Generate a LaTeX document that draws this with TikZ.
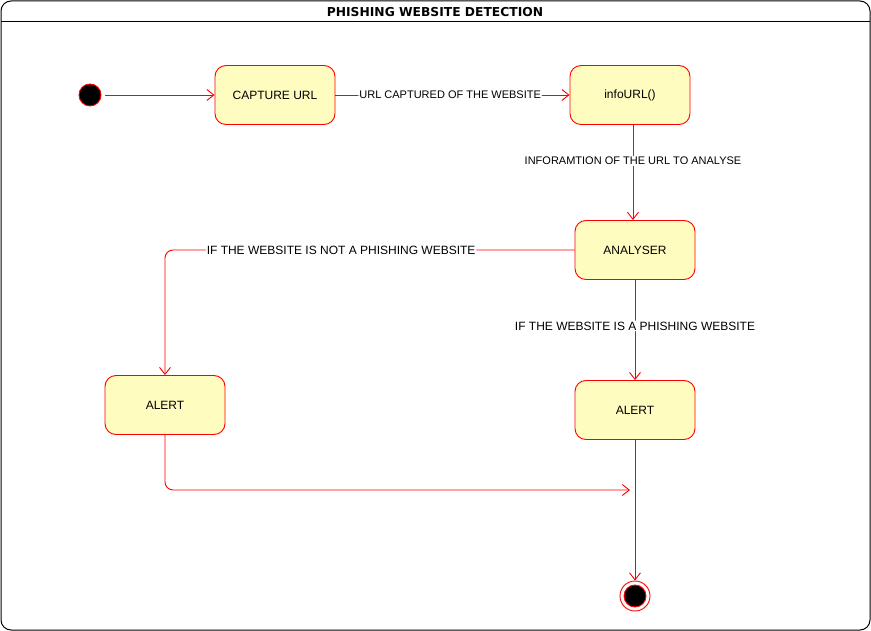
\documentclass[tikz,border=0pt]{standalone}
\usepackage{fontspec}
\setmainfont{Liberation Sans}
\newfontfamily\titlefont{DejaVu Sans}
\usetikzlibrary{arrows.meta,positioning}

\tikzset{
  state/.style={draw=red, line width=0.9pt, fill=yellow!25, rounded corners=11pt, minimum width=120pt, minimum height=59pt, font=\fontsize{12}{14}\selectfont},
  flow/.style={color=red, line width=0.9pt, -{Straight Barb[length=7pt,width=11pt]}, rounded corners=8pt},
  lbl/.style={fill=white, text=black, inner sep=1pt, font=\fontsize{11}{13}\selectfont},
  biglbl/.style={lbl, font=\fontsize{12}{14}\selectfont}
}

\begin{document}
\begin{tikzpicture}[x=1pt,y=-1pt]
    \useasboundingbox (0,0) rectangle (871,631);
    \draw[line width=1pt, rounded corners=10pt] (1,1) rectangle (870,630);
    \draw[line width=1pt] (1,22) -- (870,22);
    \node[font=\titlefont\bfseries\fontsize{12.3}{14}\selectfont] (title) at (435,12) {PHISHING WEBSITE DETECTION};

    \node[circle, draw=red, line width=0.9pt, fill=black, minimum size=22pt, inner sep=0pt] (start) at (90,95) {};
    \node[state] (capture) at (275,95) {CAPTURE URL};
    \node[state] (info) at (630,95) {infoURL()};
    \node[state] (analyser) at (635,250) {ANALYSER};
    \node[state] (alertL) at (165,405) {ALERT};
    \node[state] (alertR) at (635,410) {ALERT};
    \node[circle, draw=red, line width=0.9pt, minimum size=30pt, inner sep=0pt] (end) at (635,596) {};
    \node[circle, draw=red, line width=0.9pt, fill=black, minimum size=22pt, inner sep=0pt] (endin) at (end) {};
    \coordinate (join) at (630,490);

    \draw[flow] (start.east) ++(4,0) -- (capture.west);
    \draw[flow] (capture.east) -- node[lbl, pos=0.49] {URL CAPTURED OF THE WEBSITE} (info.west);
    \draw[flow] (info.south -| analyser.north) ++(-2,0) -- node[lbl, pos=0.38] {INFORAMTION OF THE URL TO ANALYSE} ++(0,95);
    \draw[flow] (analyser.west) -- node[biglbl, pos=0.57] {IF THE WEBSITE IS NOT A PHISHING WEBSITE} (analyser.west -| alertL.north) -- (alertL.north);
    \draw[flow] (analyser.south) -- node[biglbl, pos=0.46] {IF THE WEBSITE IS A PHISHING WEBSITE} (alertR.north);
    \draw[flow] (alertL.south) |- (join);
    \draw[flow] (alertR.south) -- (end.north);
\end{tikzpicture}
\end{document}
